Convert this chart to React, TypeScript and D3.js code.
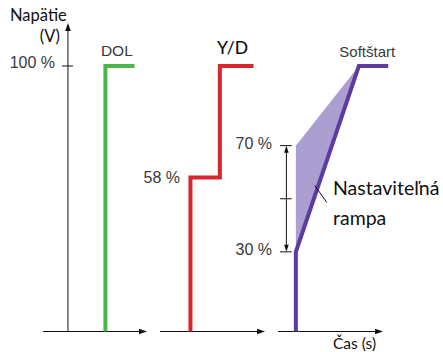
import React from "react";
import * as d3 from "d3";

// ---- data ----
const panelTitles = ["DOL", "Y/D", "Softštart"];
const dolTime = [6.0, 6.0, 8.8];
const dolVoltage = [0, 100, 100];
const ydTime = [2.9, 2.9, 5.7, 5.7, 8.9];
const ydVoltage = [0, 58, 58, 100, 100];
const softTime = [1.7, 1.7, 7.7, 10.5];
const softVoltage = [0, 30, 100, 100];
const rampBandTime = [1.7, 1.7, 7.7];
const rampBandVoltage = [30, 70, 100];
const yTickValues = [100];
const yTickLabels = ["100 %"];
const ydLabelValue = 58;
const ydLabel = "58 %";
const softTickValues = [70, 50, 30];
const softTickLabels = ["70 %", "", "30 %"];
const yAxisTitle = ["Napätie", "(V)"];
const xAxisTitle = "Čas (s)";
const rampLabel = ["Nastaviteľná", "rampa"];

const W = 443;
const H = 352;
const GREEN = "#4cb54b";
const RED = "#d8262f";
const PURPLE = "#5d3b9f";
const SHADE = "#ab9ed1";
const GRAY = "#3a3a3a";
const CAL = "Lato, 'Open Sans', sans-serif";
const HEL = "'Liberation Sans', Arial, sans-serif";

const panelRanges: [number, number][] = [
  [43, 147],
  [160, 265],
  [278, 383],
];

export default function App() {
  const y = d3.scaleLinear().domain([0, 100]).range([331.5, 66]);
  const xs = panelRanges.map((r) => d3.scaleLinear().domain([0, 10]).range(r));
  const line = d3.line<[number, number]>().x((d) => d[0]).y((d) => d[1]);

  const series = [
    { t: dolTime, v: dolVoltage, c: GREEN, x: xs[0] },
    { t: ydTime, v: ydVoltage, c: RED, x: xs[1] },
    { t: softTime, v: softVoltage, c: PURPLE, x: xs[2] },
  ];

  const yAxisX = xs[0](2.4);
  const base = y(0);
  const band = rampBandTime.map((t, i) => [xs[2](t), y(rampBandVoltage[i])] as [number, number]);
  const arrowX = xs[2](0.8);

  const titleX = [xs[0](7.1), xs[1](6.9), xs[2](8.5)];
  const titleFont = [HEL, CAL, HEL];
  const titleSize = [15.5, 17.5, 15];
  const titleColor = [GRAY, "#111", GRAY];
  const titleWeight = [400, 500, 400];
  const titleY = [56, 54, 57];

  return (
    <svg width={W} height={H} style={{ position: "absolute", left: 0, top: 0, background: "#fff" }}>
      {/* x axes */}
      {panelRanges.map((r, i) => (
        <g key={"xa" + i}>
          <line x1={r[0]} x2={r[1] - 5} y1={base} y2={base} stroke="#111" strokeWidth={1} />
          <path d={`M${r[1]},${base} L${r[1] - 8},${base - 2.8} L${r[1] - 8},${base + 2.8} Z`} fill="#111" />
        </g>
      ))}
      {/* y axis */}
      <line x1={yAxisX} x2={yAxisX} y1={base} y2={28} stroke="#111" strokeWidth={1} />
      <path d={`M${yAxisX},${23} L${yAxisX - 2.8},${31} L${yAxisX + 2.8},${31} Z`} fill="#111" />
      {yTickValues.map((v, i) => (
        <g key={"yt" + i}>
          <line x1={yAxisX - 6} x2={yAxisX + 5} y1={y(v)} y2={y(v)} stroke="#111" strokeWidth={1} />
          <text x={55} y={y(v) + 1.5} textAnchor="end" fontFamily={HEL} fontSize={16} fill={GRAY}>
            {yTickLabels[i]}
          </text>
        </g>
      ))}
      <text x={10} y={21} fontFamily={CAL} fontSize={16.5} fill="#111">{yAxisTitle[0]}</text>
      <text x={60} y={42} textAnchor="end" fontFamily={CAL} fontSize={16.5} fill="#111">{yAxisTitle[1]}</text>

      {/* panel titles */}
      {panelTitles.map((t, i) => (
        <text key={"pt" + i} x={titleX[i]} y={titleY[i]} textAnchor="middle" fontFamily={titleFont[i]}
          fontSize={titleSize[i]} fontWeight={titleWeight[i]} fill={titleColor[i]}>
          {t}
        </text>
      ))}

      {/* ramp band */}
      <path d={line(band) + "Z"} fill={SHADE} />

      {/* series lines */}
      {series.map((s, i) => (
        <path key={"s" + i}
          d={line(s.t.map((t, j) => [s.x(t), y(s.v[j])] as [number, number])) || ""}
          fill="none" stroke={s.c} strokeWidth={4} strokeLinejoin="miter" />
      ))}

      {/* Y/D label */}
      <text x={180} y={y(ydLabelValue) + 5} textAnchor="end" fontFamily={HEL} fontSize={16} fill={GRAY}>
        {ydLabel}
      </text>

      {/* softstart ticks & double arrow */}
      {softTickValues.map((v, i) => (
        <g key={"st" + i}>
          <line x1={xs[2](0.2)} x2={xs[2](1.3)} y1={y(v)} y2={y(v)} stroke="#111" strokeWidth={1} />
          {softTickLabels[i] && (
            <text x={272} y={y(v) + 3} textAnchor="end" fontFamily={HEL} fontSize={16} fill={GRAY}>
              {softTickLabels[i]}
            </text>
          )}
        </g>
      ))}
      <line x1={arrowX} x2={arrowX} y1={y(70) + 4} y2={y(30) - 4} stroke="#111" strokeWidth={1} />
      <path d={`M${arrowX},${y(70)} L${arrowX - 2.3},${y(70) + 7} L${arrowX + 2.3},${y(70) + 7} Z`} fill="#111" />
      <path d={`M${arrowX},${y(30)} L${arrowX - 2.3},${y(30) - 7} L${arrowX + 2.3},${y(30) - 7} Z`} fill="#111" />

      {/* leader line and ramp label */}
      <line x1={xs[2](3.5)} y1={y(55)} x2={xs[2](4.65)} y2={y(48.6)} stroke="#111" strokeWidth={1} />
      <text x={333} y={195} fontFamily={CAL} fontSize={19.5} fill="#111">{rampLabel[0]}</text>
      <text x={333} y={225} fontFamily={CAL} fontSize={19.5} fill="#111">{rampLabel[1]}</text>

      {/* x axis title */}
      <text x={333} y={349} fontFamily={CAL} fontSize={15.5} fill="#111">{xAxisTitle}</text>
    </svg>
  );
}
